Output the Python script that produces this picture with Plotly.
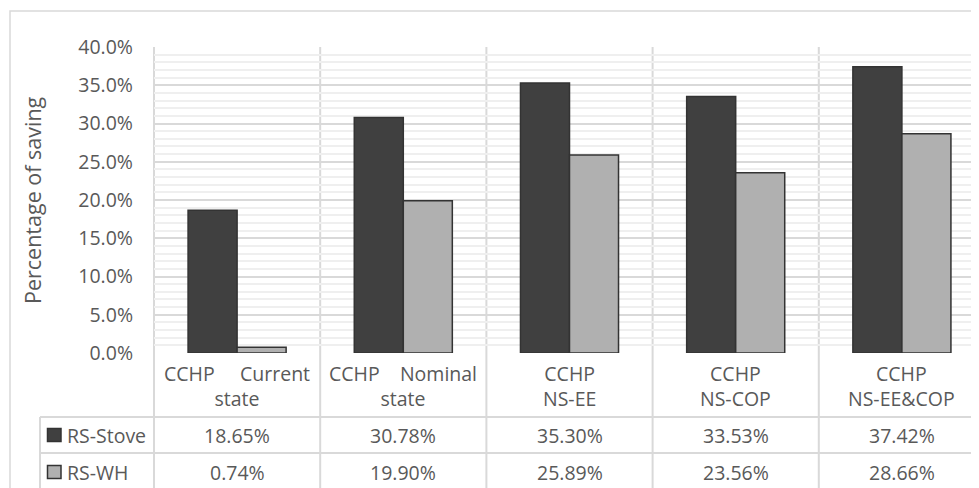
import plotly.graph_objects as go

# ---- data ----
categories = ["CCHP\u00a0\u00a0\u00a0\u00a0\u00a0Current<br>state", "CCHP\u00a0\u00a0\u00a0\u00a0Nominal<br>state",
              "CCHP<br>NS-EE", "CCHP<br>NS-COP", "CCHP<br>NS-EE&COP"]
series_names = ["RS-Stove", "RS-WH"]
rs_stove = [18.65, 30.78, 35.30, 33.53, 37.42]
rs_wh = [0.74, 19.90, 25.89, 23.56, 28.66]
y_ticks = [0, 5, 10, 15, 20, 25, 30, 35, 40]

# ---- layout geometry (pixels, in reference-screen coordinates) ----
OFF = 8                      # default page body margin
W, H = 979 - OFF, 488 - OFF  # figure size so it fills the window exactly
L, R, T, B = 154, 979, 47, 353
PW, PH = R - L, B - T
CAT_W = 166.2

def px(x):
    return (x - L) / PW

def py(y):
    return (B - y) / PH

TXT = "#595959"
GRID = "#D9D9D9"
FONT = "Open Sans"
FS = 19.5
colors = ["#404040", "#B0B0B0"]

x_idx = list(range(len(categories)))
fig = go.Figure()
for name, vals, col in zip(series_names, [rs_stove, rs_wh], colors):
    fig.add_trace(go.Bar(x=x_idx, y=vals, name=name, marker=dict(color=col, line=dict(color="#333333", width=1.5)),
                         hoverinfo="skip"))

shapes = []
annotations = []
# outer chart border
shapes.append(dict(type="rect", xref="paper", yref="paper", x0=px(10), y0=py(11), x1=px(995), y1=py(500),
                   line=dict(color=GRID, width=1.5), fillcolor="rgba(0,0,0,0)", layer="below"))
# vertical category boundaries
shapes.append(dict(type="line", xref="paper", yref="paper", x0=0, x1=0, y0=py(495), y1=1,
                   line=dict(color=GRID, width=2), layer="below"))
for i in range(1, len(categories)):
    shapes.append(dict(type="line", xref="x", yref="paper", x0=i - 0.5, x1=i - 0.5, y0=py(495), y1=1,
                       line=dict(color=GRID, width=2), layer="below"))
# table horizontal lines
for yy in [417, 453]:
    shapes.append(dict(type="line", xref="paper", yref="paper", x0=px(40), x1=px(995), y0=py(yy), y1=py(yy),
                       line=dict(color=GRID, width=2)))
shapes.append(dict(type="line", xref="paper", yref="paper", x0=px(40), x1=px(40), y0=py(417), y1=py(495),
                   line=dict(color=GRID, width=2)))

# category labels row
for i, c in enumerate(categories):
    annotations.append(dict(x=i, xref="x", y=py(385.5), yref="paper", text=c, showarrow=False,
                            font=dict(family=FONT, size=FS, color=TXT), xanchor="center", yanchor="middle"))

# data table rows
row_centers = [435, 472]
for name, vals, col, yc in zip(series_names, [rs_stove, rs_wh], colors, row_centers):
    shapes.append(dict(type="rect", xref="paper", yref="paper", x0=px(47.5), x1=px(61), y0=py(yc - 6.5), y1=py(yc + 6.5),
                       fillcolor=col, line=dict(color="#333333", width=1.5)))
    annotations.append(dict(x=px(65), xref="paper", y=py(yc), yref="paper", text=name, showarrow=False,
                            font=dict(family=FONT, size=FS, color=TXT), xanchor="left", yanchor="middle"))
    for i, v in enumerate(vals):
        annotations.append(dict(x=i, xref="x", y=py(yc), yref="paper", text=f"{v:.2f}%", showarrow=False,
                                font=dict(family=FONT, size=FS, color=TXT), xanchor="center", yanchor="middle"))

# y-axis title
annotations.append(dict(x=px(32), xref="paper", y=0.5, yref="paper", text="Percentage of saving", textangle=-90,
                        showarrow=False, font=dict(family=FONT, size=21.5, color=TXT), xanchor="center", yanchor="middle"))

fig.update_layout(
    width=W, height=H,
    margin=dict(l=L - OFF, r=0, t=T - OFF, b=(H + OFF) - B, pad=0),
    paper_bgcolor="white", plot_bgcolor="white",
    barmode="group", bargap=0.41, bargroupgap=0,
    showlegend=False,
    font=dict(family=FONT, size=FS, color=TXT),
    xaxis=dict(range=[-0.5, -0.5 + PW / CAT_W], showticklabels=False, showgrid=False, zeroline=False,
               showline=False, ticks="", fixedrange=True),
    yaxis=dict(range=[0, 40], tickvals=y_ticks, ticktext=[f"{t:.1f}%" for t in y_ticks],
               showgrid=True, gridcolor=GRID, gridwidth=2, zeroline=False, showline=False, ticks="",
               ticklabelstandoff=20, tickfont=dict(family=FONT, size=FS, color=TXT),
               minor=dict(dtick=1, showgrid=True, gridcolor="#EFEFEF", gridwidth=1.5), fixedrange=True),
    shapes=shapes,
    annotations=annotations,
)

fig.write_html("out.html")
